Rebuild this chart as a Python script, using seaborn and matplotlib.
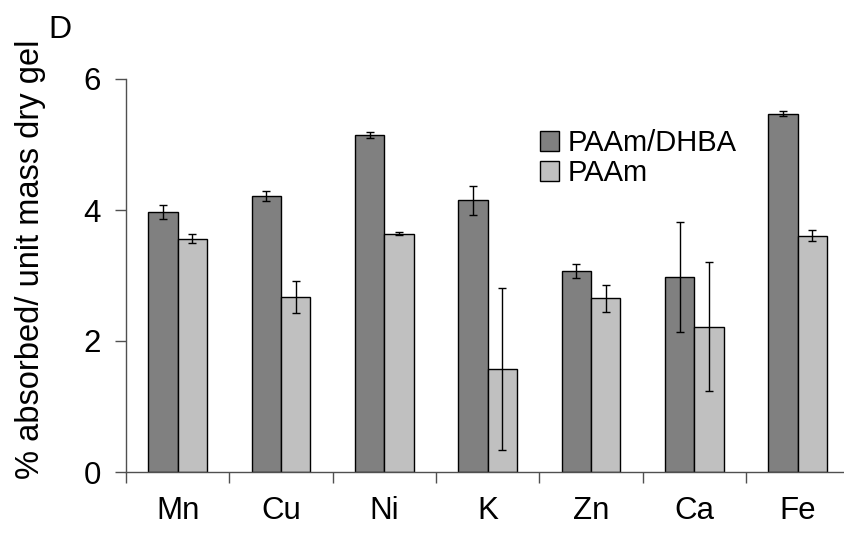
import matplotlib
matplotlib.use("Agg")
import matplotlib.pyplot as plt
import seaborn as sns
import pandas as pd
import numpy as np

categories = ["Mn", "Cu", "Ni", "K", "Zn", "Ca", "Fe"]
series_names = ["PAAm/DHBA", "PAAm"]
dhba_values = [3.97, 4.22, 5.14, 4.15, 3.07, 2.98, 5.47]
dhba_err = [0.10, 0.075, 0.045, 0.22, 0.11, 0.84, 0.035]
paam_values = [3.56, 2.67, 3.64, 1.57, 2.65, 2.22, 3.61]
paam_err = [0.07, 0.25, 0.02, 1.24, 0.21, 0.99, 0.085]
y_ticks = [0, 2, 4, 6]

sns.set_theme(style="white")
plt.rcParams["font.family"] = ["Liberation Sans", "DejaVu Sans"]
plt.rcParams["text.color"] = "black"
plt.rcParams["xtick.color"] = "black"
plt.rcParams["ytick.color"] = "black"
plt.rcParams["axes.labelcolor"] = "black"

df = pd.DataFrame({
    "element": categories * 2,
    "series": [series_names[0]] * len(categories) + [series_names[1]] * len(categories),
    "value": dhba_values + paam_values,
})
errs = {series_names[0]: dhba_err, series_names[1]: paam_err}

fig = plt.figure(figsize=(8.44, 5.33), dpi=100)
W, H = 844, 533
ax = fig.add_axes([126 / W, 61 / H, 718 / W, (472 - 79) / H])

sns.barplot(data=df, x="element", y="value", hue="series", order=categories,
            hue_order=series_names, palette=["#808080", "#c0c0c0"],
            width=0.57, errorbar=None, edgecolor="black", linewidth=1.0,
            saturation=1, ax=ax)

for cont, name in zip(ax.containers, series_names):
    xs = [p.get_x() + p.get_width() / 2 for p in cont.patches]
    hs = [p.get_height() for p in cont.patches]
    ax.errorbar(xs, hs, yerr=errs[name], fmt="none", ecolor="black",
                elinewidth=1.0, capsize=3, capthick=1.0, zorder=5)

ax.set_xlim(-0.5, -0.5 + 718 / 103.33)
ax.set_ylim(0, 6)
ax.set_yticks(y_ticks)
ax.set_yticklabels([str(t) for t in y_ticks], fontsize=22.5)
ax.set_xticks(range(len(categories)))
ax.set_xticklabels(categories, fontsize=22.5)
ax.set_xticks(np.arange(-0.5, 6.0, 1.0), minor=True)
ax.tick_params(axis="x", which="major", length=0, pad=17)
ax.tick_params(axis="x", which="minor", length=8, width=1, color="#505050", direction="out", bottom=True)
ax.tick_params(axis="y", which="major", length=8, width=1, color="#505050", direction="out", left=True, pad=10)

for s in ["top", "right"]:
    ax.spines[s].set_visible(False)
for s in ["left", "bottom"]:
    ax.spines[s].set_color("#505050")
    ax.spines[s].set_linewidth(1.0)

ax.set_xlabel("")
ax.set_ylabel("% absorbed/ unit mass dry gel", fontsize=23.5)
ax.yaxis.set_label_coords(-0.112, 0.542)

leg = ax.legend(loc="upper left", bbox_to_anchor=(540 / W, 1 - 129 / H),
                bbox_transform=fig.transFigure, frameon=False, fontsize=21,
                handlelength=0.65, handleheight=0.68, handletextpad=0.3,
                labelspacing=0.07, borderpad=0, borderaxespad=0)
for t in leg.get_texts():
    t.set_color("black")

fig.text(48 / W, 1 - 30 / H, "D", fontsize=23, va="center", ha="left")

fig.savefig("out.png", dpi=100)
